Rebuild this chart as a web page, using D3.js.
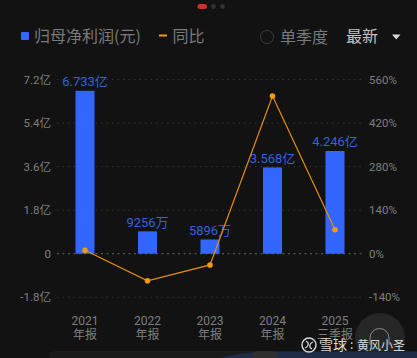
<!DOCTYPE html>
<html>
<head>
<meta charset="utf-8">
<script src="https://cdn.jsdelivr.net/npm/d3@7/dist/d3.min.js"></script>
<style>
  html, body { margin: 0; padding: 0; background: #121212; overflow: hidden; }
  text { font-family: "Noto Sans CJK SC", "Noto Sans", sans-serif; }
  .num { font-family: Roboto, "Noto Sans CJK SC", sans-serif; }
</style>
</head>
<body>
<svg id="chart" width="417" height="358"></svg>
<script>
const years = ["2021", "2022", "2023", "2024", "2025"];
const periods = ["年报", "年报", "年报", "年报", "三季报"];
const profit = [6.733, 0.9256, 0.5896, 3.568, 4.246];
const profitLabels = ["6.733亿", "9256万", "5896万", "3.568亿", "4.246亿"];
const yoy = [11, -87, -36, 507, 77];
const leftTicks = [-1.8, 0, 1.8, 3.6, 5.4, 7.2];
const leftLabels = ["-1.8亿", "0", "1.8亿", "3.6亿", "5.4亿", "7.2亿"];
const rightTicks = [-140, 0, 140, 280, 420, 560];

const svg = d3.select("#chart");

const x = d3.scaleBand().domain(years).range([53.75, 366.25])
  .paddingInner(0.696).paddingOuter(0.348);
const xc = d => x(d) + x.bandwidth() / 2;
const y = d3.scaleLinear().domain([-1.8, 7.2]).range([297.3, 79.5]);
const yr = d3.scaleLinear().domain([-140, 560]).range([297.3, 79.5]);

// 网格线
svg.append("g").selectAll("line")
  .data(leftTicks)
  .enter().append("line")
  .attr("x1", 57).attr("x2", 365)
  .attr("y1", d => y(d)).attr("y2", d => y(d))
  .attr("stroke", d => d === 0 ? "#6a6a6a" : "#333333")
  .attr("stroke-width", d => d === 0 ? 1.2 : 1)
  .attr("stroke-dasharray", d => d === 0 ? "2 3.5" : "1.5 4");

// 左右轴
const axisLeft = d3.axisLeft(y).tickValues(leftTicks)
  .tickFormat((d, i) => leftLabels[i]).tickSize(0).tickPadding(0);
const gl = svg.append("g").attr("transform", "translate(51,0)").call(axisLeft);
const axisRight = d3.axisRight(yr).tickValues(rightTicks)
  .tickFormat(d => d + "%").tickSize(0).tickPadding(0);
const gr = svg.append("g").attr("transform", "translate(369,0)").call(axisRight);
[gl, gr].forEach(g => {
  g.select(".domain").remove();
  g.selectAll("text").attr("class", "num")
    .attr("fill", "#7f7f7f").attr("font-size", 11.5);
});

// 柱
svg.append("g").selectAll("rect")
  .data(years)
  .enter().append("rect")
  .attr("x", d => x(d))
  .attr("width", x.bandwidth())
  .attr("y", (d, i) => y(profit[i]))
  .attr("height", (d, i) => y(0) - y(profit[i]))
  .attr("fill", "#3366ff");

svg.append("g").selectAll("text")
  .data(years)
  .enter().append("text")
  .attr("class", "num")
  .attr("x", xc)
  .attr("y", (d, i) => y(profit[i]) - 4.5)
  .attr("text-anchor", "middle")
  .attr("font-size", 13)
  .attr("fill", "#3362dc")
  .text((d, i) => profitLabels[i]);

// 同比折线
const line = d3.line().x(d => xc(d)).y((d, i) => yr(yoy[i]));
svg.append("path")
  .attr("d", line(years))
  .attr("fill", "none")
  .attr("stroke", "#e58e0a")
  .attr("stroke-width", 1.2);
svg.append("g").selectAll("circle")
  .data(years)
  .enter().append("circle")
  .attr("cx", xc)
  .attr("cy", (d, i) => yr(yoy[i]))
  .attr("r", 2.8)
  .attr("fill", "#f59a0c");

// x 轴标签
svg.append("g").selectAll("text")
  .data(years)
  .enter().append("text")
  .attr("class", "num")
  .attr("text-anchor", "middle")
  .attr("fill", "#7f7f7f")
  .attr("font-size", 12)
  .attr("x", xc).attr("y", 325)
  .text(d => d);
svg.append("g").selectAll("text")
  .data(years)
  .enter().append("text")
  .attr("text-anchor", "middle")
  .attr("fill", "#7f7f7f")
  .attr("font-size", 12)
  .attr("x", xc).attr("y", 339)
  .text((d, i) => periods[i]);

// 顶部分页点
svg.append("rect").attr("x", 197.5).attr("y", 4).attr("width", 9.5).attr("height", 5)
  .attr("rx", 2.5).attr("fill", "#c8352f");
svg.append("circle").attr("cx", 213.5).attr("cy", 6.5).attr("r", 2.4).attr("fill", "#333");
svg.append("circle").attr("cx", 222.5).attr("cy", 6.5).attr("r", 2.4).attr("fill", "#333");

// 图例
svg.append("rect").attr("x", 21).attr("y", 32).attr("width", 8).attr("height", 8)
  .attr("rx", 1).attr("fill", "#3366ff");
svg.append("text").attr("x", 34).attr("y", 41.5).attr("font-size", 16)
  .attr("fill", "#7a7a7a").text("归母净利润(元)");
svg.append("rect").attr("x", 159).attr("y", 34.5).attr("width", 8).attr("height", 2)
  .attr("fill", "#f59a0c");
svg.append("text").attr("x", 172.5).attr("y", 41.5).attr("font-size", 16)
  .attr("fill", "#7a7a7a").text("同比");
svg.append("circle").attr("cx", 267).attr("cy", 37).attr("r", 6.5)
  .attr("fill", "none").attr("stroke", "#3c3c3c");
svg.append("text").attr("x", 280).attr("y", 42.5).attr("font-size", 16)
  .attr("fill", "#7a7a7a").text("单季度");
svg.append("text").attr("x", 346).attr("y", 42).attr("font-size", 16)
  .attr("fill", "#c4c4c4").text("最新");
svg.append("path").attr("d", "M392 34.5h8.5l-4.25 5z").attr("fill", "#d8d8d8");

// 底部浮层 / 水印
svg.append("circle").attr("cx", 380).attr("cy", 338).attr("r", 25).attr("fill", "#262626");
svg.append("path").attr("d", "M370 345v-7a9.5 9.5 0 0 1 19 0v7")
  .attr("fill", "none").attr("stroke", "#8a8a8a").attr("stroke-width", 1);
svg.append("rect").attr("x", 49).attr("y", 351).attr("width", 368).attr("height", 12)
  .attr("rx", 6).attr("fill", "#1a1a1a");
svg.append("path").attr("d", "M220 358C240 353 255 351.5 275 351.5H417V358Z").attr("fill", "#1e2c47");
svg.append("rect").attr("x", 252).attr("y", 351).attr("width", 26).attr("height", 12)
  .attr("rx", 6).attr("fill", "#2e2e2e");
svg.append("circle").attr("cx", 309).attr("cy", 345).attr("r", 7)
  .attr("fill", "none").attr("stroke", "#d8d8d8").attr("stroke-width", 1.4);
svg.append("path").attr("d", "M306 341c4 2 2 6 -1 7M312 349c-4 -2 -2 -6 1 -7")
  .attr("fill", "none").attr("stroke", "#d8d8d8").attr("stroke-width", 1.2);
svg.append("text").attr("x", 319).attr("y", 350).attr("font-size", 14)
  .attr("fill", "#d8d8d8").text("雪球");
svg.append("text").attr("x", 350).attr("y", 349).attr("font-size", 12)
  .attr("fill", "#d8d8d8").text(":");
svg.append("text").attr("x", 357).attr("y", 349.5).attr("font-size", 12)
  .attr("fill", "#d8d8d8").text("黄风小圣");
</script>
</body>
</html>
